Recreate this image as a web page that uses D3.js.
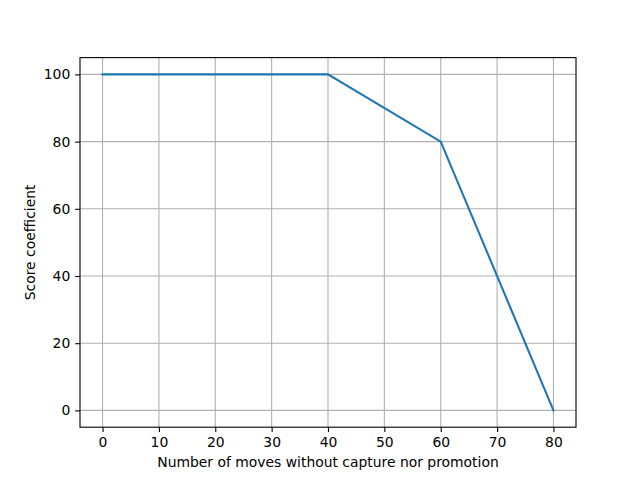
<!DOCTYPE html>
<html>
<head>
<script src="https://d3js.org/d3.v7.min.js"></script>
<style>
  body { margin: 0; background: white; }
  text { font-family: "DejaVu Sans", sans-serif; font-size: 13.9px; fill: black; }
</style>
</head>
<body>
<svg width="640" height="480"></svg>
<script>
// data
var moves = [0, 40, 60, 80];
var coeff = [100, 100, 80, 0];
var xTicks = [0, 10, 20, 30, 40, 50, 60, 70, 80];
var yTicks = [0, 20, 40, 60, 80, 100];

var plotLeft = 80, plotRight = 576, plotTop = 57.6, plotBottom = 427.2;

var svg = d3.select('svg');
var x = d3.scaleLinear().domain([-4, 84]).range([plotLeft, plotRight]);
var y = d3.scaleLinear().domain([-5, 105]).range([plotBottom, plotTop]);

// grid
svg.append('g').selectAll('line').data(xTicks).enter().append('line')
  .attr('x1', d => x(d)).attr('x2', d => x(d))
  .attr('y1', plotTop).attr('y2', plotBottom)
  .attr('stroke', '#b0b0b0').attr('stroke-width', 1.1);
svg.append('g').selectAll('line').data(yTicks).enter().append('line')
  .attr('y1', d => y(d)).attr('y2', d => y(d))
  .attr('x1', plotLeft).attr('x2', plotRight)
  .attr('stroke', '#b0b0b0').attr('stroke-width', 1.1);

// line
var pts = moves.map((m, i) => [m, coeff[i]]);
svg.append('path')
  .datum(pts)
  .attr('d', d3.line().x(d => x(d[0])).y(d => y(d[1])))
  .attr('fill', 'none')
  .attr('stroke', '#1f77b4')
  .attr('stroke-width', 2.08)
  .attr('stroke-linecap', 'square');

// axes
var xAxis = d3.axisBottom(x).tickValues(xTicks).tickSizeOuter(0).tickSizeInner(4.86).tickPadding(4.86);
var yAxis = d3.axisLeft(y).tickValues(yTicks).tickSizeOuter(0).tickSizeInner(4.86).tickPadding(4.86);

var gx = svg.append('g').attr('transform', 'translate(0,' + plotBottom + ')').call(xAxis);
var gy = svg.append('g').attr('transform', 'translate(' + plotLeft + ',0)').call(yAxis);
[gx, gy].forEach(function(g) {
  g.select('.domain').remove();
  g.selectAll('line').attr('stroke', 'black').attr('stroke-width', 1.1);
  g.selectAll('text').attr('font-family', 'DejaVu Sans').attr('font-size', 13.9).attr('fill', 'black');
});

// frame
svg.append('rect')
  .attr('x', plotLeft).attr('y', plotTop)
  .attr('width', plotRight - plotLeft).attr('height', plotBottom - plotTop)
  .attr('fill', 'none').attr('stroke', 'black').attr('stroke-width', 1.1);

// labels
svg.append('text')
  .attr('x', (plotLeft + plotRight) / 2).attr('y', 467)
  .attr('text-anchor', 'middle')
  .text('Number of moves without capture nor promotion');
svg.append('text')
  .attr('transform', 'translate(35,' + ((plotTop + plotBottom) / 2) + ') rotate(-90)')
  .attr('text-anchor', 'middle')
  .text('Score coefficient');
</script>
</body>
</html>
